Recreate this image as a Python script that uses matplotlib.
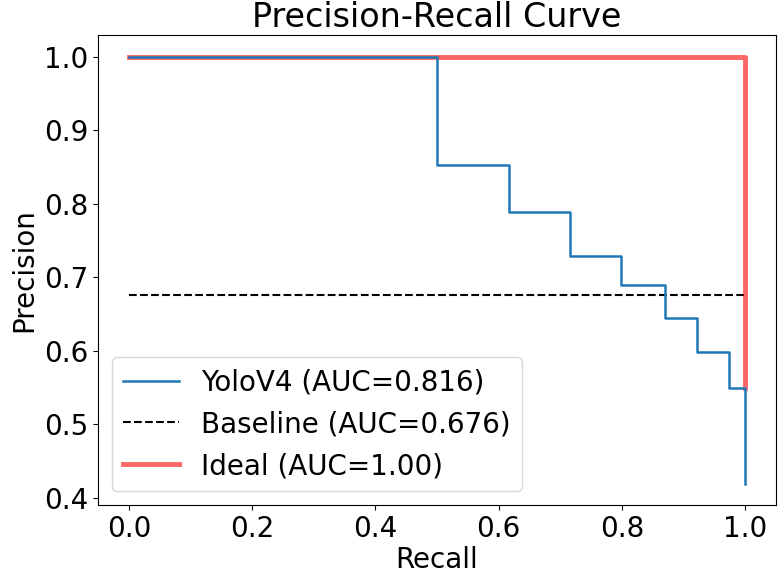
import numpy as np
import matplotlib
matplotlib.use("Agg")
import matplotlib.pyplot as plt

# step points of the PR curve (recall, precision)
recall = [0.0, 0.5, 0.5, 0.617, 0.617, 0.716, 0.716, 0.799, 0.799, 0.869, 0.869,
          0.922, 0.922, 0.974, 0.974, 1.0, 1.0]
precision = [1.0, 1.0, 0.852, 0.852, 0.788, 0.788, 0.729, 0.729, 0.689, 0.689, 0.644,
             0.644, 0.598, 0.598, 0.549, 0.549, 0.419]
baseline = 0.676
ideal_x = [0.0, 1.0, 1.0]
ideal_y = [1.0, 1.0, 0.549]

plt.rcParams['font.size'] = 20

fig = plt.figure(figsize=(7.84, 5.75), dpi=100)
ax = fig.add_axes([0.125, 0.1217, 0.865, 0.817])

ax.plot(recall, precision, lw=1.8, zorder=3, label='YoloV4 (AUC=0.816)')
ax.plot([0, 1], [baseline, baseline], 'k--', label='Baseline (AUC=0.676)')
ax.plot(ideal_x, ideal_y, color='red', alpha=0.6, lw=3.5, zorder=2,
        label='Ideal (AUC=1.00)')

ax.set_xlabel('Recall', labelpad=2)
ax.set_ylabel('Precision', labelpad=4)
ax.set_title('Precision-Recall Curve')
ax.legend(loc='lower left')

fig.savefig('out.png', dpi=100)
